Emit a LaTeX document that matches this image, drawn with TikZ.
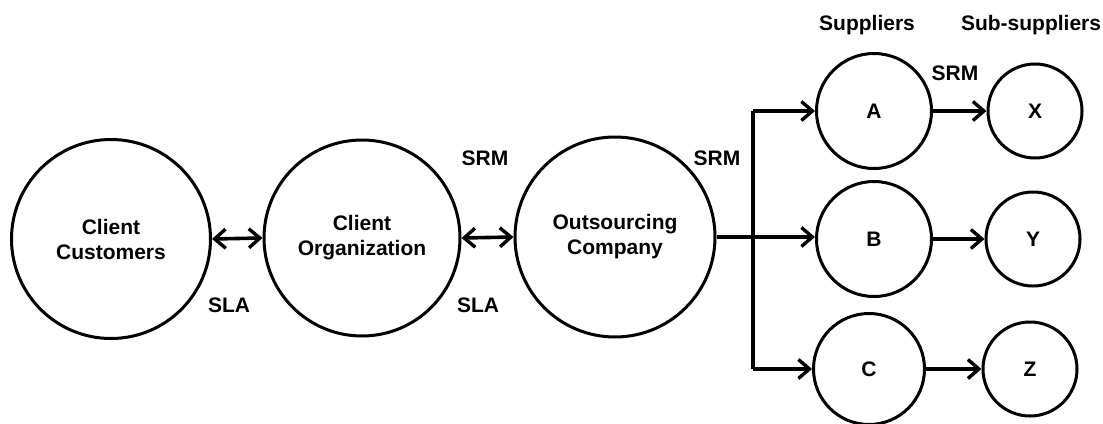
\documentclass[tikz,border=0pt]{standalone}
\usepackage{fontspec}
\setmainfont{Liberation Sans}
\usetikzlibrary{arrows.meta}
\begin{document}
\begin{tikzpicture}[x=1pt,y=-1pt,
  font=\bfseries\fontsize{21}{25}\selectfont,
  party/.style={draw, circle, line width=3pt, inner sep=0pt, align=center},
  link/.style={line width=3.6pt},
  tip/.tip={Straight Barb[length=11pt,width=19pt,line width=3.4pt]},
  onearrow/.style={link, -tip},
  twoarrow/.style={link, tip-tip},
  tag/.style={inner sep=0pt}]
\useasboundingbox (0,0) rectangle (1103,423);

% main chain
\node[party, minimum size=199pt] (cc) at (111,239) {Client\\Customers};
\node[party, minimum size=196pt] (co) at (362,238) {Client\\Organization};
\node[party, minimum size=200pt] (oc) at (615,237) {Outsourcing\\Company};

% suppliers
\node[party, minimum size=115pt] (a) at (874,111) {A};
\node[party, minimum size=115pt] (b) at (874,239) {B};
\node[party, minimum size=111pt] (c) at (869,369) {C};

% sub-suppliers
\node[party, minimum size=94pt] (x) at (1035,111) {X};
\node[party, minimum size=94pt] (y) at (1033,239) {Y};
\node[party, minimum size=94pt] (z) at (1030,369) {Z};

% agreements between the parties
\draw[twoarrow] (cc.east) -- (co.west);
\draw[twoarrow] (co.east) -- (oc.west);

% distribution to the suppliers
\coordinate (vx) at (753,0);
\draw[link] (vx |- a.west) -- (vx |- c.west);
\draw[onearrow] (oc.east) -- (oc.east -| b.west);
\draw[onearrow] (vx |- a.west) -- (a.west);
\draw[onearrow] (vx |- c.west) -- (c.west);

% suppliers to sub-suppliers
\draw[onearrow] (a.east) -- (x.west);
\draw[onearrow] (b.east) -- (y.west);
\draw[onearrow] (c.east) -- (z.west);

% labels
\node[tag] (sla1) at (229,305) {SLA};
\node[tag] (sla2) at (478,305) {SLA};
\node[tag] (srm1) at (485,158) {SRM};
\node[tag] (srm2) at (717,158) {SRM};
\node[tag] (srm3) at (955,73) {SRM};
\node[tag] (hsup) at (867,25) {Suppliers};
\node[tag] (hsub) at (1031,25) {Sub-suppliers};
\end{tikzpicture}
\end{document}
